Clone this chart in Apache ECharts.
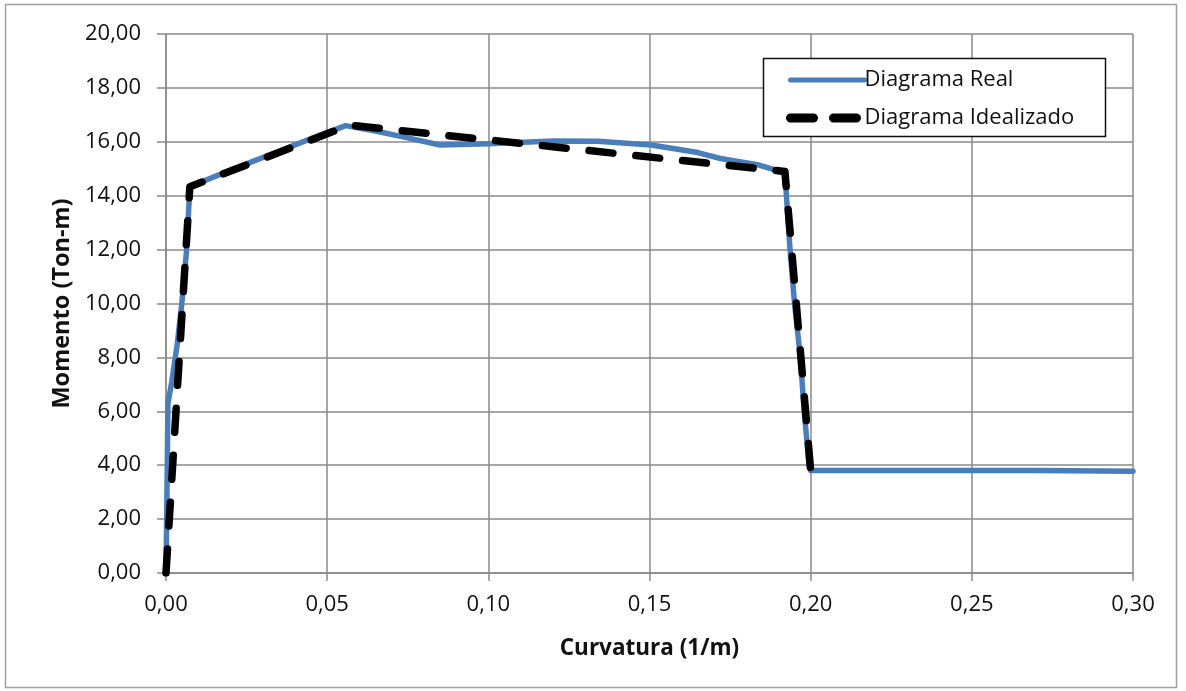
<!DOCTYPE html>
<html>
<head>
<meta charset="utf-8">
<script src="https://cdn.jsdelivr.net/npm/echarts@6/dist/echarts.min.js"></script>
<style>
html,body{margin:0;padding:0;background:#fff;}
#chart{width:1186px;height:691px;}
</style>
</head>
<body>
<div id="chart"></div>
<script>
// Data
const realCurvature = [0, 0.0003, 0.0006, 0.0018, 0.0035, 0.0049, 0.0064, 0.0074, 0.020, 0.035, 0.045, 0.0557, 0.0650, 0.0732, 0.085, 0.100, 0.120, 0.134, 0.1505, 0.165, 0.172, 0.1835, 0.1920, 0.1936, 0.1950, 0.1968, 0.1980, 0.1995, 0.2000, 0.270, 0.300];
const realMoment    = [0, 3.0, 6.3, 7.1, 8.5, 10.0, 12.0, 14.33, 14.95, 15.65, 16.12, 16.60, 16.40, 16.19, 15.88, 15.93, 16.03, 16.02, 15.88, 15.60, 15.38, 15.15, 14.85, 12.0, 10.0, 8.0, 6.0, 4.0, 3.80, 3.80, 3.78];
const idealCurvature = [0, 0.0074, 0.057, 0.192, 0.200];
const idealMoment    = [0, 14.33, 16.62, 14.90, 3.80];
const seriesNames = ['Diagrama Real', 'Diagrama Idealizado'];
const xAxisTitle = 'Curvatura (1/m)';
const yAxisTitle = 'Momento (Ton-m)';

const pairs = (xs, ys) => xs.map((x, i) => [x, ys[i]]);
const fmt = v => v.toFixed(2).replace('.', ',');
const FONT = '"Open Sans", "Noto Sans", sans-serif';
const GRID = '#8a8a8a';
const TXT = '#111111';
const BLUE = '#4a7ebb';

const chart = echarts.init(document.getElementById('chart'), null, {renderer: 'canvas'});
chart.setOption({
  animation: false,
  backgroundColor: '#ffffff',
  grid: {left: 166, right: 53, top: 34, bottom: 118, containLabel: false},
  xAxis: {
    type: 'value', min: 0, max: 0.30, interval: 0.05,
    name: xAxisTitle, nameLocation: 'middle', nameGap: 64,
    nameTextStyle: {fontFamily: FONT, fontSize: 22.5, fontWeight: 'bold', color: TXT},
    axisLine: {show: true, lineStyle: {color: GRID, width: 1.5}},
    axisTick: {show: true, length: 8, lineStyle: {color: GRID, width: 1.5}},
    axisLabel: {fontFamily: FONT, fontSize: 22, color: TXT, margin: 21, formatter: fmt},
    splitLine: {show: true, lineStyle: {color: GRID, width: 1.5}}
  },
  yAxis: {
    type: 'value', min: 0, max: 20, interval: 2,
    name: yAxisTitle, nameLocation: 'middle', nameGap: 92, nameRotate: 90,
    nameTextStyle: {fontFamily: FONT, fontSize: 23.5, fontWeight: 'bold', color: TXT},
    axisLine: {show: true, lineStyle: {color: GRID, width: 1.5}},
    axisTick: {show: true, length: 9, lineStyle: {color: GRID, width: 1.5}},
    axisLabel: {fontFamily: FONT, fontSize: 22, color: TXT, margin: 25, formatter: fmt},
    splitLine: {show: true, lineStyle: {color: GRID, width: 1.5}}
  },
  legend: {
    orient: 'vertical', left: 781, top: 64,
    itemWidth: 74, itemHeight: 16, itemGap: 16,
    textStyle: {fontFamily: FONT, fontSize: 22, color: TXT, padding: [0, 0, 0, -5]},
    data: [
      {name: seriesNames[0], itemStyle: {opacity: 0}, lineStyle: {width: 5, color: BLUE, cap: 'round'}},
      {name: seriesNames[1], itemStyle: {opacity: 0}, lineStyle: {width: 9, color: '#000000', type: [23, 20], cap: 'round'}}
    ]
  },
  graphic: [
    {type: 'rect', shape: {x: 5.5, y: 4.5, width: 1171, height: 683}, style: {fill: 'none', stroke: '#a0a0a0', lineWidth: 1.5}, z: -1},
    {type: 'rect', shape: {x: 763.5, y: 58.5, width: 342, height: 78}, style: {fill: '#ffffff', stroke: '#111111', lineWidth: 1.5}, z: 2}
  ],
  series: [
    {
      name: seriesNames[0], type: 'line', symbol: 'none', smooth: false,
      data: pairs(realCurvature, realMoment),
      lineStyle: {color: BLUE, width: 5.5, cap: 'round', join: 'round'},
      itemStyle: {color: BLUE}, z: 3
    },
    {
      name: seriesNames[1], type: 'line', symbol: 'none', smooth: false,
      data: pairs(idealCurvature, idealMoment),
      lineStyle: {color: '#000000', width: 7.5, type: [24, 23], cap: 'round', join: 'round'},
      itemStyle: {color: '#000000'}, z: 4
    }
  ]
});
</script>
</body>
</html>
